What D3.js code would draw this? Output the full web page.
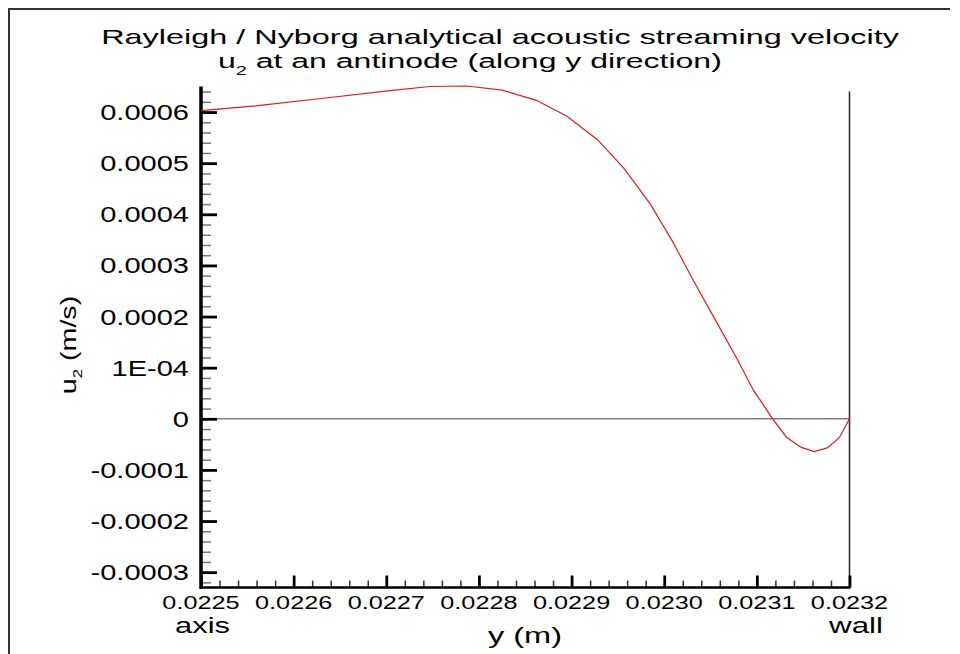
<!DOCTYPE html>
<html>
<head>
<meta charset="utf-8">
<script src="https://cdn.jsdelivr.net/npm/d3@7"></script>
<style>
  html, body { margin: 0; padding: 0; background: #fff; }
  svg { display: block; }
  text { font-family: "Liberation Sans", Arial, Helvetica, sans-serif; fill: #000; }
</style>
</head>
<body>
<svg id="chart" width="960" height="654"></svg>
<script>
// Streaming velocity profile from the channel axis to the wall
const yPos = [0.02250, 0.022559, 0.022632, 0.022704, 0.022747, 0.022787, 0.022825, 0.022862,
              0.022895, 0.022928, 0.022957, 0.022985, 0.023009, 0.023031, 0.023055, 0.023079,
              0.023096, 0.023117, 0.023132, 0.023148, 0.023162, 0.023176, 0.023189, 0.02320];
const u2 = [6.03e-4, 6.12e-4, 6.27e-4, 6.42e-4, 6.50e-4, 6.51e-4, 6.43e-4, 6.23e-4,
            5.92e-4, 5.46e-4, 4.89e-4, 4.20e-4, 3.47e-4, 2.72e-4, 1.94e-4, 1.16e-4,
            0.57e-4, 0.0, -0.36e-4, -0.56e-4, -0.64e-4, -0.57e-4, -0.37e-4, 0.0];

// Axis ticks and their labels
const xTicks = [0.0225, 0.0226, 0.0227, 0.0228, 0.0229, 0.0230, 0.0231, 0.0232];
const xTickLabels = ["0.0225", "0.0226", "0.0227", "0.0228", "0.0229", "0.0230", "0.0231", "0.0232"];
const yTicks = [0.0006, 0.0005, 0.0004, 0.0003, 0.0002, 0.0001, 0, -0.0001, -0.0002, -0.0003];
const yTickLabels = ["0.0006", "0.0005", "0.0004", "0.0003", "0.0002", "1E-04", "0", "-0.0001", "-0.0002", "-0.0003"];

const xDomain = [0.0225, 0.0232];
const yDomain = [-0.00033, 0.00065];
const wallTop = 0.00064;

const titleLines = ["Rayleigh / Nyborg analytical acoustic streaming velocity", "at an antinode (along y direction)"];

const svg = d3.select("#chart");

const plot = { left: 201, right: 849.5, top: 86.5, bottom: 587.5 };
const x = d3.scaleLinear().domain(xDomain).range([plot.left, plot.right]);
const y = d3.scaleLinear().domain(yDomain).range([plot.bottom, plot.top]);

// Horizontally stretched lettering
function stretchedText(parent, str, tx, ty, size, sx, anchor) {
  return parent.append("text")
    .attr("transform", `translate(${tx},${ty}) scale(${sx},1)`)
    .attr("text-anchor", anchor)
    .style("font-size", size + "px")
    .text(str);
}
// Stretch a label so that it spans a given width
function fittedText(parent, str, tx, ty, size, width, anchor) {
  const t = stretchedText(parent, str, tx, ty, size, 1, anchor);
  const w = t.node().getComputedTextLength();
  t.attr("transform", `translate(${tx},${ty}) scale(${width / w},1)`);
  return t;
}

// Outer frame (top and left edges)
svg.append("path")
  .attr("d", "M9,660 L9,9 L950,9")
  .attr("fill", "none").attr("stroke", "#333").attr("stroke-width", 2);

// Title
fittedText(svg, titleLines[0], 500, 44, 21, 798, "middle");

const line2 = svg.append("text").style("font-size", "21px").attr("text-anchor", "start");
line2.append("tspan").text("u");
line2.append("tspan").attr("dy", 7).style("font-size", "13px").text("2");
line2.append("tspan").attr("dy", -7).text(" " + titleLines[1]);
const w2 = line2.node().getComputedTextLength();
line2.attr("transform", `translate(218,68) scale(${(722 - 218) / w2},1)`);

// Zero line and wall line
svg.append("line")
  .attr("x1", x(xDomain[0])).attr("x2", x(xDomain[1]))
  .attr("y1", y(0)).attr("y2", y(0))
  .attr("stroke", "#808080").attr("stroke-width", 1.6);
svg.append("line")
  .attr("x1", x(xDomain[1])).attr("x2", x(xDomain[1]))
  .attr("y1", y(wallTop)).attr("y2", y(yDomain[0]))
  .attr("stroke", "#333").attr("stroke-width", 1.6);

// Minor ticks
const yMinor = d3.range(-0.00032, 0.000645, 0.00002).filter(v => Math.abs(Math.round(v / 0.0001) * 0.0001 - v) > 1e-9);
const xMinor = d3.range(0.02250, 0.023201, 0.00002).filter(v => Math.abs(Math.round(v / 0.0001) * 0.0001 - v) > 1e-9);

const yMinorAxis = d3.axisLeft(y).tickValues(yMinor).tickFormat("").tickSizeInner(-10).tickSizeOuter(0);
svg.append("g").attr("transform", `translate(${plot.left},0)`).call(yMinorAxis)
  .call(g => g.select(".domain").remove())
  .call(g => g.selectAll(".tick line").attr("stroke", "#777").attr("stroke-width", 1.5));

const xMinorAxis = d3.axisBottom(x).tickValues(xMinor).tickFormat("").tickSizeInner(-7).tickSizeOuter(0);
svg.append("g").attr("transform", `translate(0,${plot.bottom})`).call(xMinorAxis)
  .call(g => g.select(".domain").remove())
  .call(g => g.selectAll(".tick line").attr("stroke", "#333").attr("stroke-width", 1.5));

// Major ticks
const yAxis = d3.axisLeft(y).tickValues(yTicks).tickFormat("").tickSizeInner(-16).tickSizeOuter(0);
svg.append("g").attr("transform", `translate(${plot.left},0)`).call(yAxis)
  .call(g => g.select(".domain").remove())
  .call(g => g.selectAll(".tick line").attr("stroke", "#000").attr("stroke-width", 2.8));

const xAxis = d3.axisBottom(x).tickValues(xTicks).tickFormat("").tickSizeInner(-12).tickSizeOuter(0);
svg.append("g").attr("transform", `translate(0,${plot.bottom})`).call(xAxis)
  .call(g => g.select(".domain").remove())
  .call(g => g.selectAll(".tick line").attr("stroke", "#000").attr("stroke-width", 2.8));

// Axis lines
svg.append("line")
  .attr("x1", plot.left).attr("x2", plot.left)
  .attr("y1", y(yDomain[1])).attr("y2", y(yDomain[0]) + 1.5)
  .attr("stroke", "#000").attr("stroke-width", 3.5);
svg.append("line")
  .attr("x1", plot.left).attr("x2", x(xDomain[1]) + 1)
  .attr("y1", plot.bottom).attr("y2", plot.bottom)
  .attr("stroke", "#000").attr("stroke-width", 2.5);

// Tick labels
yTicks.forEach((v, i) => stretchedText(svg, yTickLabels[i], 189, y(v) + 8, 22, 1.32, "end"));
xTicks.forEach((v, i) => stretchedText(svg, xTickLabels[i], x(v), 608.5, 19, 1.33, "middle"));

// Axis titles and end annotations
fittedText(svg, "axis", 202.5, 633, 22, 55, "middle");
fittedText(svg, "wall", 856, 633, 22, 54, "middle");
fittedText(svg, "y (m)", 525, 643, 22, 74, "middle");

const yl = svg.append("text")
  .attr("transform", "translate(76,345) rotate(-90) scale(1.3,1)")
  .attr("text-anchor", "middle")
  .style("font-size", "22px");
yl.append("tspan").text("u");
yl.append("tspan").attr("dy", 6).style("font-size", "13px").text("2");
yl.append("tspan").attr("dy", -6).text(" (m/s)");

// Velocity profile
const line = d3.line().x((d, i) => x(yPos[i])).y(d => y(d));
svg.append("path")
  .datum(u2)
  .attr("d", line)
  .attr("fill", "none")
  .attr("stroke", "#e31a1c")
  .attr("stroke-width", 1.2);
</script>
</body>
</html>
